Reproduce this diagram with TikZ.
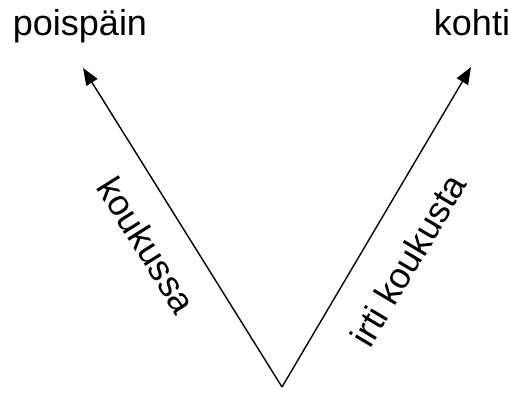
\documentclass[tikz,border=0pt]{standalone}
\usepackage{fontspec}
\setmainfont{Liberation Sans}
\usetikzlibrary{arrows.meta}
\begin{document}
\begin{tikzpicture}[x=1pt,y=1pt,
  lbl/.style={font=\fontsize{36}{42}\selectfont, inner sep=0pt},
  arr/.style={line width=1.4pt, -{Triangle[length=17pt,width=13pt]}}]
\useasboundingbox (0,0) rectangle (520,392);
\coordinate (v) at (282,5);
\coordinate (l) at (83,324);
\coordinate (r) at (471,325);
\node[lbl, anchor=base] (p) at (80,356) {poispäin};
\node[lbl, anchor=base] (k) at (472,356) {kohti};
\draw[arr] (v) -- (l);
\draw[arr] (v) -- (r);
\node[lbl, rotate=-58] (ku) at (147,147) {koukussa};
\node[lbl, rotate=59.3] (ik) at (408,132) {irti koukusta};
\end{tikzpicture}
\end{document}
